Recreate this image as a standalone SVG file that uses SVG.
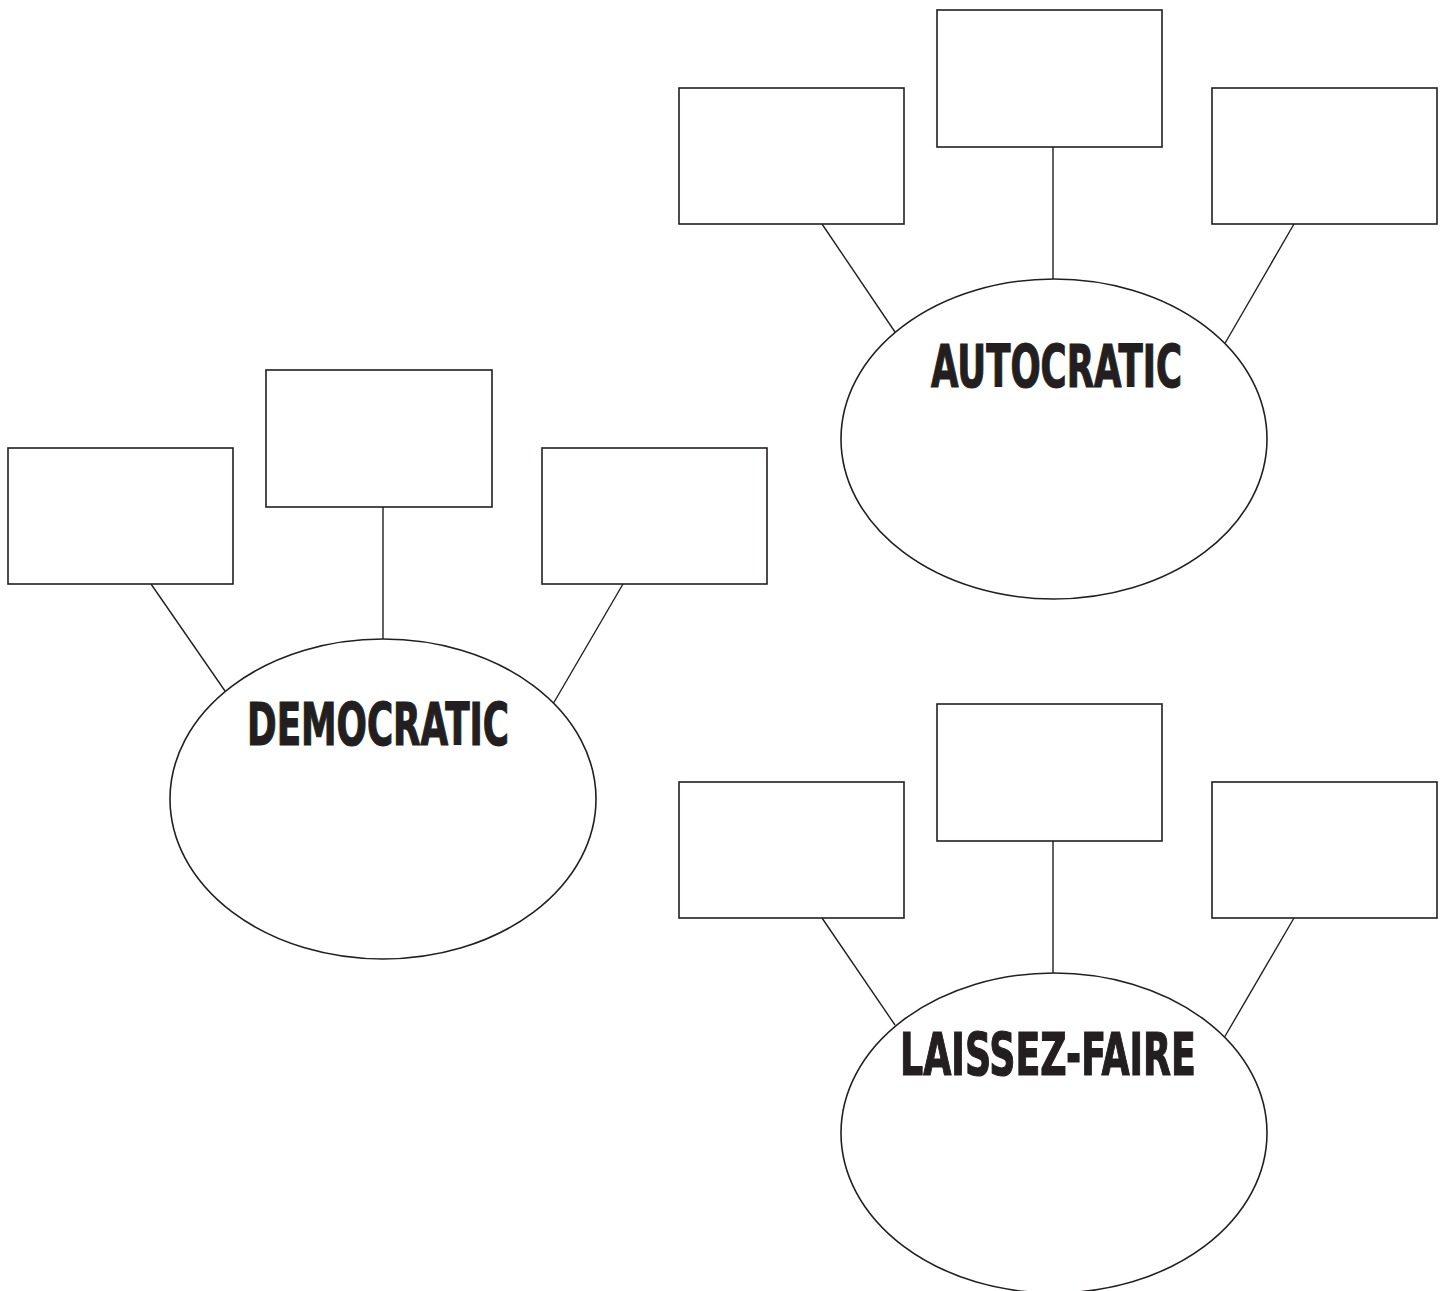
<svg xmlns="http://www.w3.org/2000/svg" width="1445" height="1291" viewBox="0 0 1445 1291">
<style>
.box{fill:#fff;stroke:#231f20;stroke-width:1.6}
.ell{fill:#fff;stroke:#231f20;stroke-width:1.6}
.con line{stroke:#231f20;stroke-width:1.4}
.lbl{font-family:"Liberation Sans Narrow","DejaVu Sans Condensed","Liberation Sans",sans-serif;font-weight:bold;font-size:58px;fill:#231f20;stroke:#231f20;stroke-width:1.2}
</style>
<rect width="1445" height="1291" fill="#fff"/>
<g id="connectors" class="con">
<line x1="822" y1="224" x2="895" y2="332"/>
<line x1="1053" y1="147" x2="1053" y2="279"/>
<line x1="1294" y1="224" x2="1224" y2="345"/>
<line x1="151" y1="584" x2="225" y2="691"/>
<line x1="383" y1="507" x2="383" y2="639"/>
<line x1="623" y1="584" x2="553" y2="704"/>
<line x1="822" y1="918" x2="895" y2="1025"/>
<line x1="1053" y1="841" x2="1053" y2="973"/>
<line x1="1294" y1="918" x2="1224" y2="1038"/>
</g>
<g id="autocratic">
<ellipse class="ell" cx="1054" cy="439" rx="213" ry="160"/>
<text class="lbl" x="931" y="387" textLength="251" lengthAdjust="spacingAndGlyphs">AUTOCRATIC</text>
</g>
<g id="auto-box-left"><rect class="box" x="679" y="88" width="225" height="136"/></g>
<g id="auto-box-mid"><rect class="box" x="937" y="10" width="225" height="137"/></g>
<g id="auto-box-right"><rect class="box" x="1212" y="88" width="225" height="136"/></g>
<g id="democratic">
<ellipse class="ell" cx="383" cy="799" rx="213" ry="160"/>
<text class="lbl" x="247" y="745" textLength="262" lengthAdjust="spacingAndGlyphs">DEMOCRATIC</text>
</g>
<g id="demo-box-left"><rect class="box" x="8" y="448" width="225" height="136"/></g>
<g id="demo-box-mid"><rect class="box" x="266" y="370" width="226" height="137"/></g>
<g id="demo-box-right"><rect class="box" x="542" y="448" width="225" height="136"/></g>
<g id="laissez-faire">
<ellipse class="ell" cx="1054" cy="1133" rx="213" ry="160"/>
<text class="lbl" x="900" y="1075" textLength="296" lengthAdjust="spacingAndGlyphs">LAISSEZ-FAIRE</text>
</g>
<g id="lf-box-left"><rect class="box" x="679" y="782" width="225" height="136"/></g>
<g id="lf-box-mid"><rect class="box" x="937" y="704" width="225" height="137"/></g>
<g id="lf-box-right"><rect class="box" x="1212" y="782" width="225" height="136"/></g>
</svg>
